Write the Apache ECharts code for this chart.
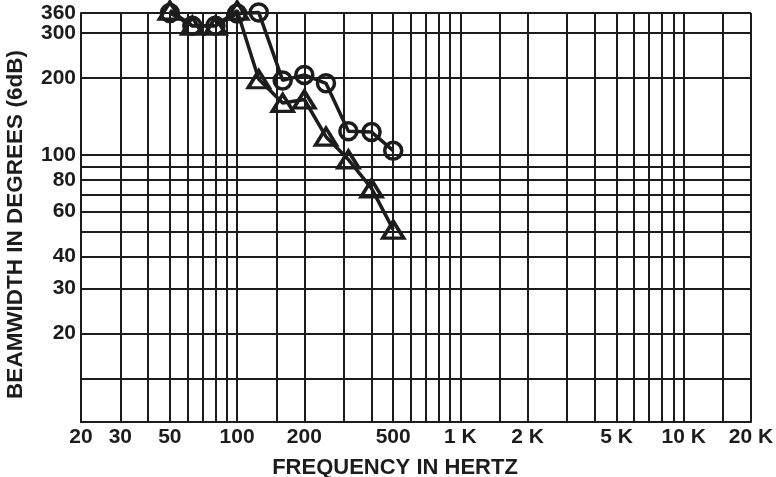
<!DOCTYPE html>
<html>
<head>
<meta charset="utf-8">
<script src="https://cdn.jsdelivr.net/npm/echarts@6/dist/echarts.min.js"></script>
<style>
  html, body { margin: 0; padding: 0; background: #fff; }
  #chart { width: 776px; height: 477px; }
</style>
</head>
<body>
<div id="chart"></div>
<script>
// third-octave band centres (Hz)
const freqs = [50, 63, 80, 100, 125, 160, 200, 250, 315, 400, 500]
const circleBeam = [360, 321, 321, 358, 362, 196, 206, 191, 124, 123, 104]
const triangleBeam = [368, 321, 321, 368, 198, 160, 165, 118, 96, 74, 51]

const xGrid = [20, 30, 40, 50, 60, 70, 80, 90, 100, 150, 200, 300, 400, 500, 600, 700, 800, 900,
  1000, 1500, 2000, 3000, 4000, 5000, 6000, 7000, 8000, 9000, 10000, 15000, 20000]
const xLabels = [20, 30, 50, 100, 200, 500, 1000, 2000, 5000, 10000, 20000]
const yGrid = [13.3, 20, 30, 40, 50, 60, 70, 80, 90, 100, 200, 300, 360]
const yLabels = [20, 30, 40, 60, 80, 100, 200, 300]
const yTopLabel = [360]

const ink = "#1c1c1c"
const font = "Liberation Sans"

const yLabelStyle = {
  color: ink,
  fontFamily: font,
  fontWeight: "bold",
  fontSize: 21,
  margin: 5,
}

const chart = echarts.init(document.getElementById("chart"))

chart.setOption({
  animation: false,
  grid: { left: 81, right: 25, top: 13, bottom: 55, outerBoundsMode: "none" },
  xAxis: {
    type: "log",
    min: 20,
    max: 20000,
    name: "FREQUENCY IN HERTZ",
    nameLocation: "middle",
    nameGap: 35,
    nameTextStyle: { color: ink, fontFamily: font, fontWeight: "bold", fontSize: 22, padding: [0, 42, 0, 0] },
    axisLine: { show: true, lineStyle: { color: ink, width: 2 } },
    axisTick: { show: false, customValues: xGrid },
    axisLabel: {
      customValues: xLabels,
      showMinLabel: true,
      showMaxLabel: true,
      color: ink,
      fontFamily: font,
      fontWeight: "bold",
      fontSize: 21,
      margin: 5,
      formatter: (v) => (v >= 1000 ? v / 1000 + " K" : String(v)),
    },
    splitLine: { show: true, lineStyle: { color: ink, width: 2 } },
  },
  yAxis: [
    {
      type: "log",
      min: 9,
      max: 360,
      name: "BEAMWIDTH IN DEGREES (6dB)",
      nameLocation: "middle",
      nameGap: 54,
      nameTextStyle: { color: ink, fontFamily: font, fontWeight: "bold", fontSize: 22.5, padding: [0, 14, 0, 0] },
      axisLine: { show: true, lineStyle: { color: ink, width: 2 } },
      axisTick: { show: false, customValues: yGrid },
      axisLabel: { ...yLabelStyle, customValues: yLabels },
      splitLine: { show: true, lineStyle: { color: ink, width: 2 } },
    },
    {
      // second copy of the scale only to carry the crowded "360" label
      type: "log",
      min: 9,
      max: 360,
      position: "left",
      axisLine: { show: false },
      axisTick: { show: false },
      axisLabel: { ...yLabelStyle, customValues: yTopLabel, showMaxLabel: true },
      splitLine: { show: false },
    },
  ],
  series: [
    {
      type: "line",
      name: "triangle",
      data: freqs.map((f, i) => [f, triangleBeam[i]]),
      symbol: "triangle",
      symbolSize: [21, 17],
      clip: false,
      lineStyle: { color: ink, width: 3.5 },
      itemStyle: { color: "transparent", borderColor: ink, borderWidth: 3.5 },
    },
    {
      type: "line",
      name: "circle",
      data: freqs.map((f, i) => [f, circleBeam[i]]),
      symbol: "circle",
      symbolSize: 17,
      clip: false,
      lineStyle: { color: ink, width: 3.5 },
      itemStyle: { color: "transparent", borderColor: ink, borderWidth: 3.5 },
    },
  ],
})
</script>
</body>
</html>
